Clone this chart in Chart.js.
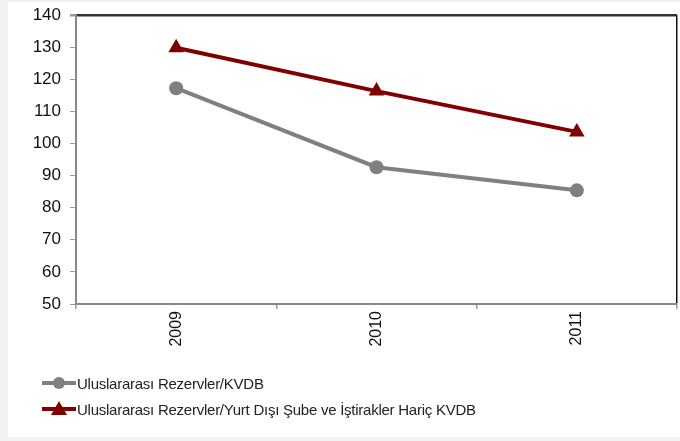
<!DOCTYPE html>
<html>
<head>
<meta charset="utf-8">
<script src="https://cdn.jsdelivr.net/npm/chart.js@4.4.1/dist/chart.umd.min.js"></script>
<style>
html,body{margin:0;padding:0;background:#f2f2f2;width:680px;height:441px;overflow:hidden;}
#panel{position:absolute;left:8px;top:2px;width:672px;height:435px;background:#fff;}
#wrap{position:absolute;left:0;top:0;width:680px;height:441px;overflow:hidden;}
#legend{position:absolute;left:42px;top:370px;font-family:"Liberation Sans",Arial,sans-serif;font-size:15px;letter-spacing:-0.25px;color:#222;}
.li{display:flex;align-items:center;height:26px;white-space:nowrap;}
.li canvas{margin-right:1px;}
</style>
</head>
<body>
<div id="panel"></div>
<div id="wrap"><canvas id="c" width="686" height="441"></canvas></div>
<div id="legend"></div>
<script>
const categories = ["2009", "2010", "2011"];
const seriesNames = ["Uluslararası Rezervler/KVDB", "Uluslararası Rezervler/Yurt Dışı Şube ve İştirakler Hariç KVDB"];
const reservesKVDB = [117.2, 92.6, 85.4];
const reservesExclKVDB = [129.8, 116.3, 103.6];
const yTicks = [50, 60, 70, 80, 90, 100, 110, 120, 130, 140];

const colors = ["#808080", "#800000"];
const pointStyles = ["circle", "triangle"];
const radii = [7, 9];

const ctx = document.getElementById('c').getContext('2d');
new Chart(ctx, {
  type: 'line',
  data: {
    labels: categories,
    datasets: [
      {label: seriesNames[0], data: reservesKVDB, borderColor: colors[0], backgroundColor: colors[0], borderWidth: 4,
       pointStyle: pointStyles[0], pointRadius: radii[0], pointHoverRadius: radii[0], pointBorderWidth: 0, tension: 0},
      {label: seriesNames[1], data: reservesExclKVDB, borderColor: colors[1], backgroundColor: colors[1], borderWidth: 4,
       pointStyle: pointStyles[1], pointRadius: radii[1], pointHoverRadius: radii[1], pointBorderWidth: 0, tension: 0}
    ]
  },
  options: {
    responsive: false,
    animation: false,
    layout: {padding: {top: 15, right: 0, left: 0, bottom: 0}},
    plugins: {legend: {display: false}, tooltip: {enabled: false}},
    scales: {
      x: {
        offset: true,
        border: {color: '#888', width: 2},
        grid: {
          offset: true,
          color: c => ((c.type !== 'tick' || c.index >= categories.length) ? '#111' : 'rgba(0,0,0,0)'),
          lineWidth: 1.5,
          tickColor: '#999',
          tickLength: 5
        },
        ticks: {
          minRotation: 90, maxRotation: 90,
          color: '#111',
          font: {family: '"Liberation Sans", Arial, sans-serif', size: 16},
          padding: 2
        },
        afterFit: s => { s.height = 137; s.paddingLeft = 0; s.paddingRight = 0; }
      },
      y: {
        min: 50, max: 140,
        border: {color: '#888', width: 2},
        afterBuildTicks: s => { s.ticks = yTicks.map(v => ({value: v})); },
        grid: {
          color: c => (c.tick && c.tick.value === 140 ? '#333' : 'rgba(0,0,0,0)'),
          lineWidth: c => (c.tick && c.tick.value === 140 ? 2.5 : 1),
          tickColor: '#999',
          tickLength: 6
        },
        ticks: {
          color: '#111',
          font: {family: '"Liberation Sans", Arial, sans-serif', size: 17},
          padding: 9
        },
        afterFit: s => { s.width = 76; s.paddingTop = 0; s.paddingBottom = 0; }
      }
    }
  }
});

// legend (HTML, built from the series arrays)
const lg = document.getElementById('legend');
seriesNames.forEach((name, i) => {
  const row = document.createElement('div'); row.className = 'li';
  const cv = document.createElement('canvas'); cv.width = 34; cv.height = 18;
  const g = cv.getContext('2d');
  g.strokeStyle = colors[i]; g.lineWidth = 4; g.beginPath(); g.moveTo(0, 9); g.lineTo(34, 9); g.stroke();
  g.fillStyle = colors[i]; g.beginPath();
  if (pointStyles[i] === 'circle') { g.arc(17, 9, 6, 0, Math.PI * 2); }
  else { g.moveTo(17, 1); g.lineTo(25, 15); g.lineTo(9, 15); g.closePath(); }
  g.fill();
  row.appendChild(cv);
  const sp = document.createElement('span'); sp.textContent = name; row.appendChild(sp);
  lg.appendChild(row);
});
</script>
</body>
</html>
